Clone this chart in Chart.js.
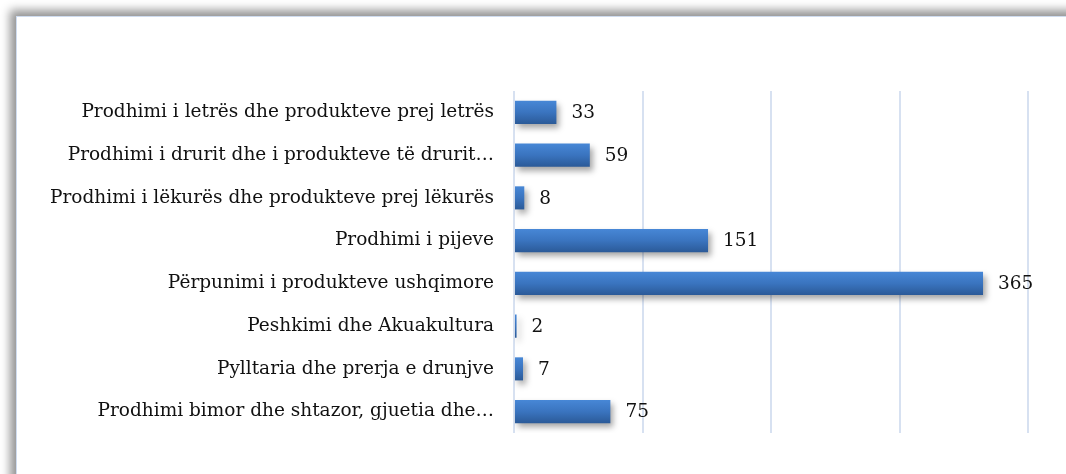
<!DOCTYPE html>
<html>
<head>
<meta charset="utf-8">
<script src="https://cdn.jsdelivr.net/npm/chart.js@4"></script>
<style>
  html, body { margin: 0; padding: 0; background: #fff; overflow: hidden; }
  #panel {
    position: absolute; left: 16px; top: 16px; width: 1120px; height: 520px;
    background: #fff;
    border-left: 1px solid #cfdcef; border-top: 1px solid #cfdcef;
    box-shadow: -6px -6px 9px rgba(0,0,0,0.42);
  }
  #wrap { position: absolute; left: 0; top: 0; width: 1066px; height: 474px; }
</style>
</head>
<body>
<div id="panel"></div>
<div id="wrap"><canvas id="chart" width="1066" height="474"></canvas></div>
<script>
// categories, top to bottom
const categories = [
    'Prodhimi i letrës dhe produkteve prej letrës',
    'Prodhimi i drurit dhe i produkteve të drurit…',
    'Prodhimi i lëkurës dhe produkteve prej lëkurës',
    'Prodhimi i pijeve',
    'Përpunimi i produkteve ushqimore',
    'Peshkimi dhe Akuakultura',
    'Pylltaria dhe prerja e drunjve',
    'Prodhimi bimor dhe shtazor, gjuetia dhe…'
];
const values = [33, 59, 8, 151, 365, 2, 7, 75];
const xTicks = [0, 100, 200, 300, 400];

const labelFont = { family: '"DejaVu Serif", serif', size: 18.5 };
const barPct = 0.54;

// gradient fill per bar, built from the y scale position
function barFill(context) {
    const chart = context.chart;
    const y = chart.scales && chart.scales.y;
    if (!chart.chartArea || !y) return '#3a74bf';
    const cy = y.getPixelForTick(context.dataIndex);
    const h = (chart.chartArea.bottom - chart.chartArea.top) / categories.length * barPct;
    const g = chart.ctx.createLinearGradient(0, cy - h / 2, 0, cy + h / 2);
    g.addColorStop(0, '#4787d6');
    g.addColorStop(0.5, '#3a74bf');
    g.addColorStop(1, '#2b5a98');
    return g;
}

// drop shadow under bars
const barShadow = {
    id: 'barShadow',
    beforeDatasetsDraw(chart) {
        const ctx = chart.ctx;
        ctx.save();
        ctx.shadowColor = 'rgba(0,0,0,0.35)';
        ctx.shadowBlur = 6;
        ctx.shadowOffsetX = 3;
        ctx.shadowOffsetY = 4;
    },
    afterDatasetsDraw(chart) {
        chart.ctx.restore();
    }
};

// value labels at bar ends
const valueLabels = {
    id: 'valueLabels',
    afterDatasetsDraw(chart) {
        const ctx = chart.ctx;
        const meta = chart.getDatasetMeta(0);
        ctx.save();
        ctx.font = labelFont.size + 'px ' + labelFont.family;
        ctx.fillStyle = '#111';
        ctx.textAlign = 'left';
        ctx.textBaseline = 'middle';
        meta.data.forEach((bar, i) => {
            ctx.fillText(values[i], bar.x + 15, bar.y + 1);
        });
        ctx.restore();
    }
};

new Chart(document.getElementById('chart'), {
    type: 'bar',
    data: {
        labels: categories,
        datasets: [{
            data: values,
            backgroundColor: barFill,
            borderWidth: 0,
            categoryPercentage: 1,
            barPercentage: barPct
        }]
    },
    options: {
        indexAxis: 'y',
        responsive: false,
        animation: false,
        layout: { padding: { top: 91, right: 38, bottom: 41, left: 0 } },
        plugins: { legend: { display: false }, tooltip: { enabled: false } },
        scales: {
            x: {
                min: 0, max: 400,
                afterBuildTicks: s => { s.ticks = xTicks.map(v => ({ value: v })); },
                afterFit: s => { s.height = 0; },
                ticks: { display: false },
                border: { display: false },
                grid: { color: '#d7e1f1', lineWidth: 2, drawTicks: false }
            },
            y: {
                afterFit: s => { s.width = 514; },
                grid: { display: false, drawTicks: false },
                border: { display: false },
                ticks: { color: '#111', font: labelFont, padding: 20, autoSkip: false }
            }
        }
    },
    plugins: [barShadow, valueLabels]
});
</script>
</body>
</html>
